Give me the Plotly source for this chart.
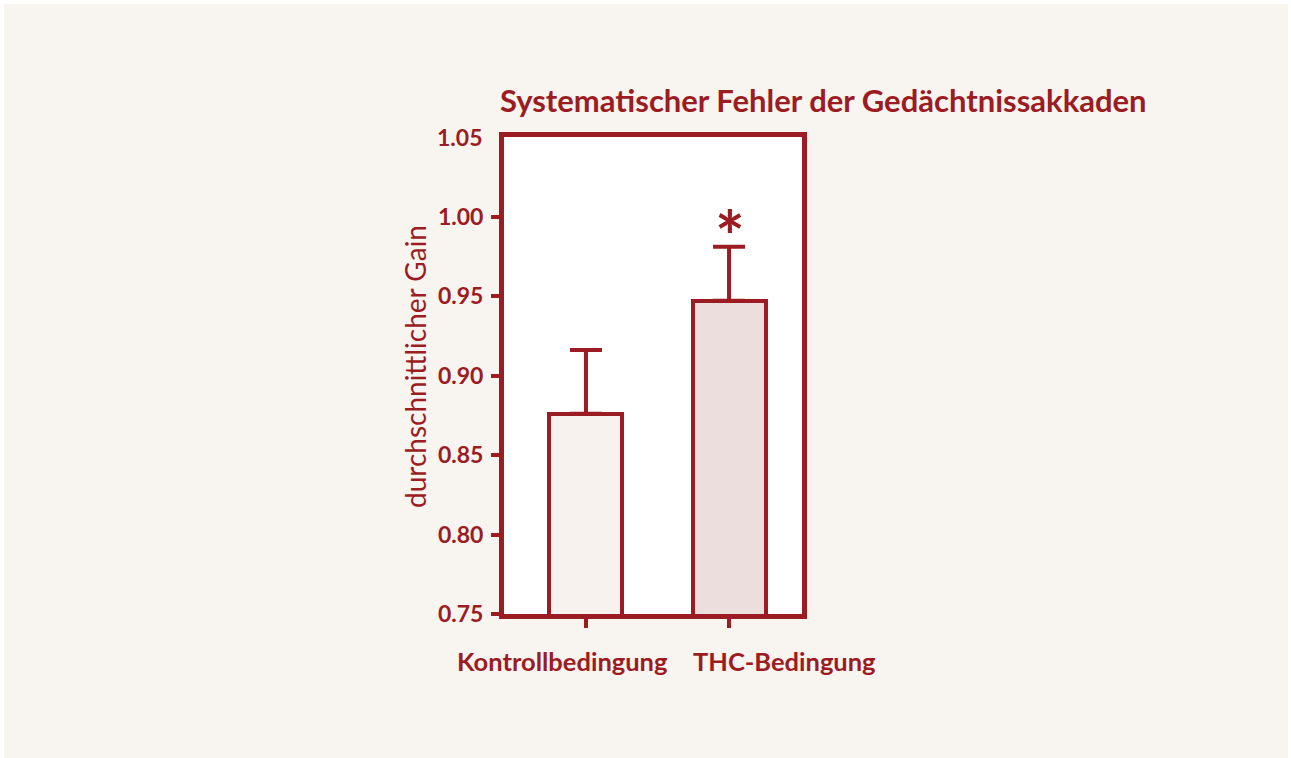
import plotly.graph_objects as go

# Mean saccade gain per condition with upward error bars
categories = ["Kontrollbedingung", "THC-Bedingung"]
gain = [0.876, 0.947]
gain_err = [0.040, 0.034]
bar_fills = ["#f7f2ed", "#ecdedc"]

y_ticks = [0.75, 0.80, 0.85, 0.90, 0.95, 1.00, 1.05]
y_ticklabels = ["0.75", "0.80", "0.85", "0.90", "0.95", "1.00", "1.05"]

title_text = "Systematischer Fehler der Gedächtnissakkaden"
y_title = "durchschnittlicher Gain"
signif_mark = "*"

RED = "#9b1c22"
BEIGE = "#f8f4ef"
FONT = "Lato"

W, H = 1291, 758
ML, MR, MT, MB = 504, 489, 137, 144
PW = W - ML - MR
PH = H - MT - MB

x_pos = list(range(len(categories)))
# horizontal offsets of the category captions relative to their bars (px)
label_shift = [-131, -38]

fig = go.Figure()
fig.add_trace(go.Bar(
    x=x_pos,
    y=gain,
    width=0.51,
    marker=dict(color=bar_fills, line=dict(color=RED, width=4)),
    error_y=dict(type="data", array=gain_err, arrayminus=[0] * len(gain_err),
                 symmetric=False, color=RED, thickness=4, width=16),
    showlegend=False,
    hoverinfo="skip",
))

# significance marker above the THC bar
fig.add_annotation(
    x=x_pos[1], y=gain[1] + gain_err[1], xref="x", yref="y",
    text=signif_mark, showarrow=False, yanchor="bottom", yshift=-33, xshift=1,
    font=dict(family=FONT, size=70, color=RED, weight="bold"),
)

# category captions under the bars
for i, cat in enumerate(categories):
    fig.add_annotation(
        x=x_pos[i], y=0, xref="x", yref="paper",
        text=cat, showarrow=False, xanchor="left", yanchor="top",
        xshift=label_shift[i], yshift=-30,
        font=dict(family=FONT, size=25.5, color=RED, weight="bold"),
    )

# top value label sits at the frame corner, without a tick stub
fig.add_annotation(
    x=0, y=y_ticks[-1], xref="paper", yref="y",
    text=y_ticklabels[-1], showarrow=False, xanchor="right", yanchor="middle",
    xshift=-21.5, borderpad=0,
    font=dict(family=FONT, size=23, color=RED, weight="bold"),
)

# vertical axis title
fig.add_annotation(
    x=(415 - ML) / PW, y=(H - MB - 367) / PH, xref="paper", yref="paper",
    text=y_title, showarrow=False, textangle=-90,
    xanchor="center", yanchor="middle",
    font=dict(family=FONT, size=28, color=RED),
)

# background panel with thin white border, and white plotting area
fig.add_shape(type="rect", xref="paper", yref="paper", layer="below",
              x0=(4 - ML) / PW, x1=(1288 - ML) / PW,
              y0=(H - MB - 758) / PH, y1=(H - MB - 4) / PH,
              fillcolor=BEIGE, line=dict(width=0))
fig.add_shape(type="rect", xref="paper", yref="paper", layer="below",
              x0=0, x1=1, y0=0, y1=1,
              fillcolor="white", line=dict(width=0))

fig.update_layout(
    width=W, height=H,
    margin=dict(l=ML, r=MR, t=MT, b=MB, pad=0),
    paper_bgcolor="white",
    plot_bgcolor="white",
    title=dict(text=title_text, x=500 / W, xanchor="left",
               y=1 - 101 / H, yanchor="middle",
               font=dict(family=FONT, size=31, color=RED, weight="bold")),
    font=dict(family=FONT, color=RED),
    bargap=0,
)

fig.update_xaxes(
    range=[-0.573, 1.51],
    tickmode="array", tickvals=x_pos, ticktext=categories,
    showticklabels=False, automargin=False,
    ticks="outside", ticklen=9, tickwidth=4, tickcolor=RED,
    showline=True, linewidth=5, linecolor=RED, mirror=True,
    showgrid=False, zeroline=False, fixedrange=True,
)
fig.update_yaxes(
    range=[0.75, 1.05], automargin=False,
    tickmode="array", tickvals=y_ticks[:-1], ticktext=y_ticklabels[:-1],
    ticks="outside", ticklen=8, tickwidth=4, tickcolor=RED,
    ticklabelstandoff=3,
    tickfont=dict(family=FONT, size=23, color=RED, weight="bold"),
    showline=True, linewidth=5, linecolor=RED, mirror=True,
    showgrid=False, zeroline=False, fixedrange=True,
)

fig.write_html("out.html", config={"displayModeBar": False})
